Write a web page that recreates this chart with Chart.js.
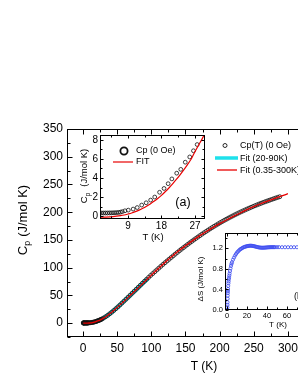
<!DOCTYPE html>
<html><head><meta charset="utf-8">
<script src="https://cdn.jsdelivr.net/npm/chart.js@4.4.0/dist/chart.umd.min.js"></script>
<style>
html,body{margin:0;padding:0;background:#fff;overflow:hidden;width:298px;height:385px;}
#wrap{position:relative;width:340px;height:385px;}
canvas{position:absolute;}
</style></head><body>
<div id="wrap">
<canvas id="main" width="340" height="385" style="left:0;top:0;width:340px;height:385px"></canvas>
<canvas id="insA" width="165" height="125" style="left:50px;top:120px;width:165px;height:125px"></canvas>
<canvas id="insB" width="165" height="110" style="left:175px;top:225px;width:165px;height:110px"></canvas>
</div>
<script>
// ---------- DATA ----------
// Main panel: measured Cp(T) (0 Oe)
const cpT = [0.35,0.5,0.7,1,1.5,2,2.5,3,3.5,4,4.5,5,5.5,6,6.5,7,7.5,8.2,9.1,10.4,11.5,12.7,13.9,15.1,16.2,17.5,18.7,19.8,20.8,22.1,23.2,24.4,25.6,26.6,27.6,
 30,33,36,39,42,45,48,51,54,57,60,63,66,69,72,75,78,81,84,87,90,93,96,99,102,105,108,111,114,117,120,123,126,129,132,135,138,141,144,147,150,153,156,159,162,165,168,171,174,177,180,183,186,189,192,195,198,201,204,207,210,213,216,219,222,225,228,231,234,237,240,243,246,249,252,255,258,261,264,267,270,273,276,279,282,285,288];
const cpVal = [0.3,0.3,0.3,0.3,0.3,0.3,0.3,0.3,0.3,0.3,0.31,0.32,0.33,0.35,0.37,0.4,0.45,0.56,0.63,0.74,0.9,1.16,1.4,1.68,2.0,2.5,2.9,3.4,3.9,4.5,4.9,5.65,6.2,6.85,7.5,
 9.2,11.5,14,16.8,19.7,22.8,26,29.3,32.7,36.2,39.7,43.2,46.8,50.4,54,57.6,61.2,64.8,68.4,72,75.5,79,82.5,86,89.3,92.6,95.9,99.2,102.5,105.8,109,112.1,115.2,118.3,121.3,124.4,127.4,130.4,133.3,136.1,138.9,141.7,144.5,147.2,149.9,152.5,155.1,157.7,160.3,162.8,165.2,167.6,170,172.3,174.6,176.8,179,181.2,183.3,185.4,187.4,189.4,191.3,193.2,195.1,196.9,198.7,200.5,202.2,203.9,205.6,207.2,208.8,210.3,211.8,213.3,214.8,216.2,217.6,219,220.3,221.6,222.9,224.2,225.5,226.7,227.9];
// Fit (0.35-300K)
const fitAllT = [0.35,3,6,9,12,15,18,21,24,27,30,35,40,45,50,60,70,80,90,100,110,120,130,140,150,160,170,180,190,200,210,220,230,240,250,260,270,280,290,300];
const fitAllVal = [0,0.02,0.1,0.25,0.6,1.3,2.4,3.9,5.1,6.9,9.0,13,17.8,22.8,28,39.6,51,62.8,74.6,86.5,98.2,109.5,120,130.3,139.4,148.3,156.8,164.8,172.2,179.3,186,192.4,198.6,204.5,210,215.2,220,224.6,229,233.3];
// Fit (20-90K)
const fitLowT = [18,20,25,30,35,40,45,50,55,60,65,70,75,80,85,90,95];
const fitLowVal = [2.4,3.3,5.6,9,13,17.8,22.8,28,33.8,39.6,45.3,51,56.9,62.8,68.7,74.6,80.5];
// Inset (a): Cp (0 Oe) and FIT
const insAT = [1.5,2,2.5,3,3.5,4,4.5,5,5.5,6,6.5,7,7.5,8.2,9.1,10.4,11.5,12.7,13.9,15.1,16.2,17.5,18.7,19.8,20.8,22.1,23.2,24.4,25.6,26.6,27.6];
const insAVal = [0.33,0.33,0.33,0.33,0.33,0.34,0.34,0.35,0.36,0.37,0.39,0.42,0.47,0.56,0.63,0.74,0.9,1.16,1.4,1.68,2.0,2.5,2.9,3.4,3.9,4.5,4.9,5.65,6.2,6.85,7.5];
const insAFitT = [1.5,3,5,7,8,9,10,11,12,13,14,15,16,17,18,19,20,21,22,23,24,25,26,27,28,29,30];
const insAFitVal = [-0.12,-0.1,-0.05,0.05,0.12,0.22,0.33,0.47,0.63,0.82,1.04,1.28,1.55,1.85,2.18,2.55,2.95,3.38,3.84,4.33,4.85,5.4,5.98,6.75,7.45,8.15,8.9];
// Inset (b): entropy change
const dsT = [0.35,0.4,0.45,0.5,0.6,0.7,0.8,0.9,1.0,1.2,1.4,1.6,1.8,2.0,2.3,2.6,3.0,3.5,4,4.5,5,6,7,8,9,10,11,12,13,14,15,16,17,18,19,20,21,22,23,24,25,26,27,28,29,30,31,32,33,34,35,36,37,38,39,40,41,42,43,44,45,46,47,48,50,52,55,58,61,64,67,70,73,76,80,84,88];
const dsVal = [0,0.05,0.1,0.15,0.22,0.28,0.33,0.37,0.41,0.47,0.52,0.56,0.6,0.63,0.67,0.71,0.76,0.81,0.86,0.9,0.93,0.98,1.02,1.06,1.09,1.12,1.14,1.16,1.18,1.19,1.205,1.215,1.225,1.232,1.238,1.243,1.247,1.25,1.252,1.252,1.25,1.247,1.243,1.238,1.233,1.228,1.223,1.219,1.216,1.214,1.213,1.213,1.214,1.215,1.217,1.219,1.221,1.222,1.223,1.224,1.224,1.224,1.224,1.224,1.224,1.224,1.223,1.223,1.223,1.223,1.223,1.223,1.223,1.223,1.223,1.223,1.223];
// Tick values
const mainXTicks = [0,50,100,150,200,250,300];
const mainXMinor = [25,75,125,175,225,275,325];
const mainYTicks = [0,50,100,150,200,250,300,350];
const mainYMinor = [-25,25,75,125,175,225,275,325];
const insAXTicks = [9,18,27];
const insAXMinor = [4.5,13.5,22.5];
const insAYTicks = [0,2,4,6,8];
const insAYMinor = [1,3,5,7];
const insBXTicks = [0,20,40,60,80,100];
const insBXMinor = [10,30,50,70,90];
const insBYTicks = [0,0.4,0.8,1.2];
const insBYMinor = [0.2,0.6,1.0,1.4];

// ---------- HELPERS ----------
const FONT = "'Liberation Sans', Arial, sans-serif";
const pts = (xs, ys) => xs.map((x, i) => ({x, y: ys[i]}));

function axis(min, max, ticks, size, pad, fit, fmt) {
  return {
    type: 'linear', min, max,
    afterBuildTicks: s => { s.ticks = ticks.map(v => ({value: v})); },
    afterFit: s => { if (s.isHorizontal()) s.height = fit; else s.width = fit; },
    grid: {display: false, drawTicks: false}, border: {display: false},
    ticks: {font: {family: FONT, size}, color: '#000', padding: pad, maxRotation: 0, autoSkip: false,
      callback: fmt || (v => String(v))}
  };
}

function framePlugin(o) {
  return {
    id: 'frame_' + o.name,
    beforeDraw(chart) {
      if (!o.fill) return;
      const a = chart.chartArea, c = chart.ctx;
      c.save(); c.fillStyle = '#fff';
      c.fillRect(a.left, a.top, a.right - a.left, a.bottom - a.top);
      c.restore();
    },
    afterDraw(chart) {
      const c = chart.ctx, a = chart.chartArea, xs = chart.scales.x, ys = chart.scales.y;
      c.save();
      c.strokeStyle = '#000'; c.lineWidth = o.lw || 1;
      const L = Math.round(a.left) + 0.5, R = Math.round(a.right) - 0.5,
            T = Math.round(a.top) + 0.5, B = Math.round(a.bottom) - 0.5;
      c.strokeRect(L, T, R - L, B - T);
      c.beginPath();
      const tx = (vals, len) => vals.forEach(v => {
        const p = xs.getPixelForValue(v);
        if (p < a.left || p > a.right) return;
        const px = Math.round(p) + 0.5;
        c.moveTo(px, B); c.lineTo(px, B - len); c.moveTo(px, T); c.lineTo(px, T + len);
      });
      const ty = (vals, len) => vals.forEach(v => {
        const p = ys.getPixelForValue(v);
        if (p < a.top || p > a.bottom) return;
        const py = Math.round(p) + 0.5;
        c.moveTo(L, py); c.lineTo(L + len, py); c.moveTo(R, py); c.lineTo(R - len, py);
      });
      tx(o.xMajor, o.maj); tx(o.xMinor, o.min);
      ty(o.yMajor, o.maj); ty(o.yMinor, o.min);
      c.stroke();
      c.fillStyle = '#000';
      if (o.extra) o.extra(c, chart);
      c.restore();
    }
  };
}

// rotated title with subscript p after first letter
function cpTitle(c, x, y, size, rest, gap) {
  c.save();
  c.translate(x, y); c.rotate(-Math.PI / 2);
  c.fillStyle = '#000'; c.textBaseline = 'alphabetic'; c.textAlign = 'left';
  c.font = size + 'px ' + FONT;
  const wC = c.measureText('C').width;
  const wR = c.measureText(rest).width;
  const sub = size * 0.68;
  c.font = sub + 'px ' + FONT;
  const wp = c.measureText('p').width;
  const total = wC + wp + gap + wR;
  let x0 = -total / 2;
  const base = size * 0.36;
  c.font = size + 'px ' + FONT;
  c.fillText('C', x0, base);
  c.font = sub + 'px ' + FONT;
  c.fillText('p', x0 + wC, base + size * 0.28);
  c.font = size + 'px ' + FONT;
  c.fillText(rest, x0 + wC + wp + gap, base);
  c.restore();
}
function text(c, s, x, y, size, align) {
  c.font = size + 'px ' + FONT; c.textAlign = align || 'left'; c.textBaseline = 'middle';
  c.fillText(s, x, y);
}

Chart.defaults.font.family = FONT;
Chart.defaults.animation = false;

// ---------- MAIN CHART ----------
new Chart(document.getElementById('main'), {
  type: 'scatter',
  data: {datasets: [
    {data: pts(fitAllT, fitAllVal), showLine: true, borderColor: 'rgb(232,0,0)', borderWidth: 1.3, pointRadius: 0, order: 0, cubicInterpolationMode: 'monotone'},
    {data: pts(cpT, cpVal), showLine: false, pointRadius: 2, pointBorderWidth: 0.8, pointBorderColor: '#111', pointBackgroundColor: 'rgba(0,0,0,0)', order: 1},
    {data: pts(fitLowT, fitLowVal), showLine: true, borderColor: 'rgb(30,225,235)', borderWidth: 4, pointRadius: 0, order: 2, cubicInterpolationMode: 'monotone'}
  ]},
  options: {
    responsive: false, animation: false, events: [],
    layout: {padding: {left: 22, top: 129, right: 35, bottom: 18}},
    plugins: {legend: {display: false}, tooltip: {enabled: false}},
    scales: {
      x: axis(-23.5, 325, mainXTicks, 12, 4, 30),
      y: axis(-25, 350, mainYTicks, 12, 4, 45)
    }
  },
  plugins: [framePlugin({name: 'main', lw: 1, maj: 5, min: 3,
    xMajor: mainXTicks, xMinor: mainXMinor, yMajor: mainYTicks, yMinor: mainYMinor,
    extra: (c) => {
      text(c, 'T (K)', 204, 367, 12, 'center');
      cpTitle(c, 22, 220, 13, '(J/mol K)', 4);
      // legend
      c.strokeStyle = '#111'; c.lineWidth = 0.9;
      c.beginPath(); c.arc(225, 145.5, 2, 0, Math.PI * 2); c.stroke();
      c.strokeStyle = 'rgb(30,225,235)'; c.lineWidth = 3.5;
      c.beginPath(); c.moveTo(215, 158); c.lineTo(238, 158); c.stroke();
      c.strokeStyle = 'rgb(232,0,0)'; c.lineWidth = 1.3;
      c.beginPath(); c.moveTo(217, 170); c.lineTo(237, 170); c.stroke();
      c.fillStyle = '#000';
      text(c, 'Cp(T) (0 Oe)', 240, 146, 9);
      text(c, 'Fit (20-90K)', 240, 159, 9);
      text(c, 'Fit (0.35-300K)', 240, 170.5, 9);
    }})]
});

// ---------- INSET (a) ----------
new Chart(document.getElementById('insA'), {
  type: 'scatter',
  data: {datasets: [
    {data: pts(insAFitT, insAFitVal), showLine: true, borderColor: 'rgb(232,0,0)', borderWidth: 1.2, pointRadius: 0, order: 0, cubicInterpolationMode: 'monotone'},
    {data: pts(insAT, insAVal), showLine: false, pointRadius: 1.9, pointBorderWidth: 0.8, pointBorderColor: '#111', pointBackgroundColor: 'rgba(0,0,0,0)', order: 1}
  ]},
  options: {
    responsive: false, animation: false, events: [],
    layout: {padding: {left: 20, top: 15, right: 10, bottom: 6}},
    plugins: {legend: {display: false}, tooltip: {enabled: false}},
    scales: {
      x: axis(1.5, 29.7, insAXTicks, 10, 1, 20),
      y: axis(-0.3, 8.5, insAYTicks, 10, 2, 30)
    }
  },
  plugins: [framePlugin({name: 'a', fill: true, lw: 1, maj: 3, min: 2,
    xMajor: insAXTicks, xMinor: insAXMinor, yMajor: insAYTicks, yMinor: insAYMinor,
    extra: (c) => {
      text(c, 'T (K)', 103, 117.5, 9.5, 'center');
      cpTitle(c, 34, 56, 9.5, '(J/mol K)', 6);
      c.strokeStyle = '#111'; c.lineWidth = 1.8;
      c.beginPath(); c.arc(74, 31, 3.6, 0, Math.PI * 2); c.stroke();
      c.strokeStyle = 'rgb(232,0,0)'; c.lineWidth = 1.2;
      c.beginPath(); c.moveTo(63, 42); c.lineTo(83, 42); c.stroke();
      c.fillStyle = '#000';
      text(c, 'Cp (0 Oe)', 86, 31, 9);
      text(c, 'FIT', 86, 42, 9);
      text(c, '(a)', 133, 83, 12.5, 'center');
    }})]
});

// ---------- INSET (b) ----------
new Chart(document.getElementById('insB'), {
  type: 'scatter',
  data: {datasets: [
    {data: pts(dsT, dsVal), showLine: false, pointRadius: 1.6, pointBorderWidth: 0.8, pointBorderColor: 'rgb(60,75,240)', pointBackgroundColor: 'rgba(0,0,0,0)'}
  ]},
  options: {
    responsive: false, animation: false, events: [],
    layout: {padding: {left: 20, top: 8, right: 13, bottom: 10}},
    plugins: {legend: {display: false}, tooltip: {enabled: false}},
    scales: {
      x: axis(-2, 100, insBXTicks, 7.5, 1, 15),
      y: axis(0, 1.5, insBYTicks, 7.5, 2, 30, v => v.toFixed(1))
    }
  },
  plugins: [framePlugin({name: 'b', fill: true, lw: 1, maj: 3, min: 2,
    xMajor: insBXTicks, xMinor: insBXMinor, yMajor: insBYTicks, yMinor: insBYMinor,
    extra: (c) => {
      text(c, 'T (K)', 103, 100, 8, 'center');
      c.save(); c.translate(26, 54); c.rotate(-Math.PI / 2);
      text(c, '\u0394S (J/mol K)', 0, 0, 8, 'center'); c.restore();
      text(c, '(b)', 119, 72, 9);
    }})]
});
</script>
</body></html>
